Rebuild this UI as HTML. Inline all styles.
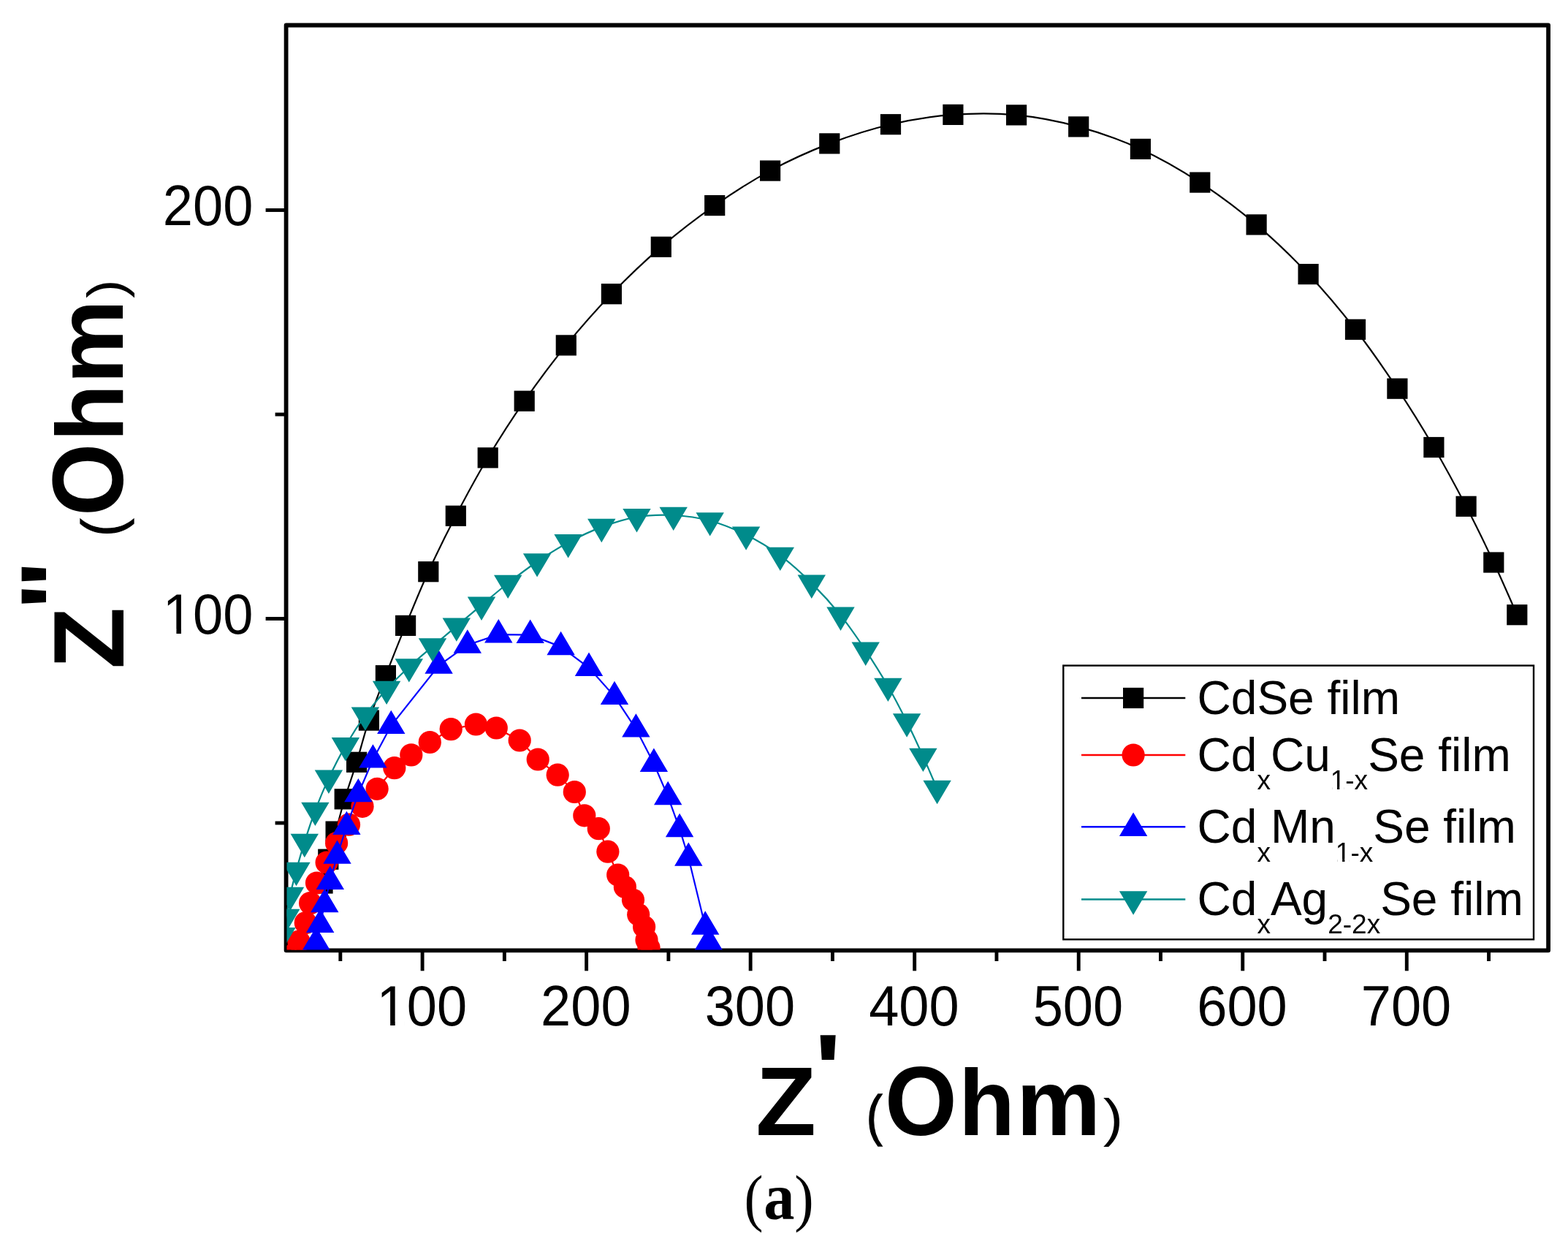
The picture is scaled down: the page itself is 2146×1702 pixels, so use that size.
<!DOCTYPE html>
<html lang="en"><head><meta charset="utf-8"><title>Nyquist plot - Z&#39;&#39; vs Z&#39; (Ohm)</title>
<style>
html,body{margin:0;padding:0;background:#fff;}
body{width:2146px;height:1702px;overflow:hidden;}
svg{display:block;}
text{font-family:"Liberation Sans",Arial,Helvetica,sans-serif;fill:#000;}
.tk{font-size:74px;}
.lg{font-size:64px;}
.sb{font-size:37px;}
.cap{font-family:"Liberation Serif","Times New Roman",serif;}
</style></head><body>
<svg width="2146" height="1702" viewBox="0 0 2146 1702">
<rect x="0" y="0" width="2146" height="1702" fill="#fff"/>
<defs><clipPath id="pc"><rect x="392.5" y="35.5" width="1725.5" height="1264"/></clipPath></defs>
<rect x="391.6" y="34.5" width="1727.5" height="1265.8" fill="none" stroke="#000" stroke-width="5.8" stroke-linejoin="round"/>
<g stroke="#000" stroke-width="4.9" stroke-linecap="butt">
<line x1="465.83" y1="1300.3" x2="465.83" y2="1315"/>
<line x1="578.1" y1="1300.3" x2="578.1" y2="1328.3"/>
<line x1="690.36" y1="1300.3" x2="690.36" y2="1315"/>
<line x1="802.63" y1="1300.3" x2="802.63" y2="1328.3"/>
<line x1="914.89" y1="1300.3" x2="914.89" y2="1315"/>
<line x1="1027.16" y1="1300.3" x2="1027.16" y2="1328.3"/>
<line x1="1139.42" y1="1300.3" x2="1139.42" y2="1315"/>
<line x1="1251.69" y1="1300.3" x2="1251.69" y2="1328.3"/>
<line x1="1363.95" y1="1300.3" x2="1363.95" y2="1315"/>
<line x1="1476.22" y1="1300.3" x2="1476.22" y2="1328.3"/>
<line x1="1588.48" y1="1300.3" x2="1588.48" y2="1315"/>
<line x1="1700.75" y1="1300.3" x2="1700.75" y2="1328.3"/>
<line x1="1813.01" y1="1300.3" x2="1813.01" y2="1315"/>
<line x1="1925.28" y1="1300.3" x2="1925.28" y2="1328.3"/>
<line x1="2037.54" y1="1300.3" x2="2037.54" y2="1315"/>
<line x1="376.6" y1="1126" x2="391.6" y2="1126"/>
<line x1="363.6" y1="846.5" x2="391.6" y2="846.5"/>
<line x1="376.6" y1="567" x2="391.6" y2="567"/>
<line x1="363.6" y1="287.5" x2="391.6" y2="287.5"/>
</g>
<g class="tk" text-anchor="middle">
<text transform="translate(577.3 1403) scale(1 1.04)">100</text>
<text transform="translate(801.83 1403) scale(1 1.04)">200</text>
<text transform="translate(1026.36 1403) scale(1 1.04)">300</text>
<text transform="translate(1250.89 1403) scale(1 1.04)">400</text>
<text transform="translate(1475.42 1403) scale(1 1.04)">500</text>
<text transform="translate(1699.95 1403) scale(1 1.04)">600</text>
<text transform="translate(1924.48 1403) scale(1 1.04)">700</text>
</g>
<rect x="520.62" y="1396.65" width="13.55" height="7.35" fill="#fff"/><rect x="540.71" y="1396.65" width="13.01" height="7.35" fill="#fff"/>
<g class="tk" text-anchor="end">
<text transform="translate(346.3 867.1) scale(1 1.04)">100</text>
<text transform="translate(346.3 308.1) scale(1 1.04)">200</text>
</g>
<rect x="227.88" y="860.75" width="13.55" height="7.35" fill="#fff"/><rect x="247.97" y="860.75" width="13.01" height="7.35" fill="#fff"/>
<g clip-path="url(#pc)">
<path fill="none" stroke="#000000" stroke-width="2.2" d="M2076.3 841.2C2070.97 829.25 2055.92 794.23 2044.3 769.5C2032.68 744.77 2020.25 719.05 2006.6 692.8C1992.95 666.55 1978.1 638.85 1962.4 612C1946.7 585.15 1930.3 558.57 1912.4 531.7C1894.5 504.83 1875.3 476.9 1855 450.8C1834.7 424.7 1813.17 399 1790.6 375.1C1768.03 351.2 1744.32 328.32 1719.6 307.4C1694.88 286.48 1668.75 266.85 1642.3 249.6C1615.85 232.35 1588.58 216.6 1560.9 203.9C1533.22 191.2 1504.5 181.15 1476.2 173.4C1447.9 165.65 1419.73 160.15 1391.1 157.4C1362.47 154.65 1333.08 154.77 1304.4 156.9C1275.72 159.03 1247.18 163.62 1219 170.2C1190.82 176.78 1162.78 185.83 1135.3 196.4C1107.82 206.97 1080.28 219.48 1054.1 233.6C1027.92 247.72 1003.08 263.73 978.2 281.1C953.32 298.47 928.35 317.62 904.8 337.8C881.25 357.98 858.57 379.77 836.9 402.2C815.23 424.63 794.67 447.98 774.8 472.4C754.93 496.82 735.55 523.05 717.7 548.7C699.85 574.35 683.35 600.12 667.7 626.3C652.05 652.48 637.37 679.82 623.8 705.8C610.23 731.78 597.75 757.18 586.3 782.2C574.85 807.22 564.83 832.23 555.1 855.9C545.37 879.57 536.27 902.58 527.9 924.2C519.53 945.82 511.53 965.83 504.9 985.6C498.27 1005.37 493.63 1024.85 488.1 1042.8C482.57 1060.75 476.45 1077.5 471.7 1093.3C466.95 1109.1 463.33 1123.87 459.6 1137.6C455.87 1151.33 452.32 1163.88 449.3 1175.7C446.28 1187.52 442.8 1203.03 441.5 1208.5"/>
<g fill="#000000">
<rect x="2062.2" y="827.1" width="28.2" height="28.2"/>
<rect x="2030.2" y="755.4" width="28.2" height="28.2"/>
<rect x="1992.5" y="678.7" width="28.2" height="28.2"/>
<rect x="1948.3" y="597.9" width="28.2" height="28.2"/>
<rect x="1898.3" y="517.6" width="28.2" height="28.2"/>
<rect x="1840.9" y="436.7" width="28.2" height="28.2"/>
<rect x="1776.5" y="361" width="28.2" height="28.2"/>
<rect x="1705.5" y="293.3" width="28.2" height="28.2"/>
<rect x="1628.2" y="235.5" width="28.2" height="28.2"/>
<rect x="1546.8" y="189.8" width="28.2" height="28.2"/>
<rect x="1462.1" y="159.3" width="28.2" height="28.2"/>
<rect x="1377" y="143.3" width="28.2" height="28.2"/>
<rect x="1290.3" y="142.8" width="28.2" height="28.2"/>
<rect x="1204.9" y="156.1" width="28.2" height="28.2"/>
<rect x="1121.2" y="182.3" width="28.2" height="28.2"/>
<rect x="1040" y="219.5" width="28.2" height="28.2"/>
<rect x="964.1" y="267" width="28.2" height="28.2"/>
<rect x="890.7" y="323.7" width="28.2" height="28.2"/>
<rect x="822.8" y="388.1" width="28.2" height="28.2"/>
<rect x="760.7" y="458.3" width="28.2" height="28.2"/>
<rect x="703.6" y="534.6" width="28.2" height="28.2"/>
<rect x="653.6" y="612.2" width="28.2" height="28.2"/>
<rect x="609.7" y="691.7" width="28.2" height="28.2"/>
<rect x="572.2" y="768.1" width="28.2" height="28.2"/>
<rect x="541" y="841.8" width="28.2" height="28.2"/>
<rect x="513.8" y="910.1" width="28.2" height="28.2"/>
<rect x="490.8" y="971.5" width="28.2" height="28.2"/>
<rect x="474" y="1028.7" width="28.2" height="28.2"/>
<rect x="457.6" y="1079.2" width="28.2" height="28.2"/>
<rect x="445.5" y="1123.5" width="28.2" height="28.2"/>
<rect x="435.2" y="1161.6" width="28.2" height="28.2"/>
<rect x="427.4" y="1194.4" width="28.2" height="28.2"/>
</g>
<polyline fill="none" stroke="#ff0000" stroke-width="2.2" points="402,1306 409,1288 418.3,1262.5 424.6,1235.6 433.5,1208 447.1,1180 460.6,1153.5 477.5,1128.2 496,1103.3 516.1,1079.3 539.8,1050.6 562.8,1032.9 588.3,1015.5 617.2,997.6 651.4,991 679.3,996 711.2,1013 736.2,1039 763.2,1060.2 786.3,1083.5 799.8,1115.8 819.3,1133.7 831.9,1165.2 845.7,1197 855.4,1213.5 866.5,1231.3 873.7,1251.3 881.6,1268 885,1286 888,1296.8"/>
<g fill="#ff0000">
<circle cx="402" cy="1306" r="15.6"/>
<circle cx="409" cy="1288" r="15.6"/>
<circle cx="418.3" cy="1262.5" r="15.6"/>
<circle cx="424.6" cy="1235.6" r="15.6"/>
<circle cx="433.5" cy="1208" r="15.6"/>
<circle cx="447.1" cy="1180" r="15.6"/>
<circle cx="460.6" cy="1153.5" r="15.6"/>
<circle cx="477.5" cy="1128.2" r="15.6"/>
<circle cx="496" cy="1103.3" r="15.6"/>
<circle cx="516.1" cy="1079.3" r="15.6"/>
<circle cx="539.8" cy="1050.6" r="15.6"/>
<circle cx="562.8" cy="1032.9" r="15.6"/>
<circle cx="588.3" cy="1015.5" r="15.6"/>
<circle cx="617.2" cy="997.6" r="15.6"/>
<circle cx="651.4" cy="991" r="15.6"/>
<circle cx="679.3" cy="996" r="15.6"/>
<circle cx="711.2" cy="1013" r="15.6"/>
<circle cx="736.2" cy="1039" r="15.6"/>
<circle cx="763.2" cy="1060.2" r="15.6"/>
<circle cx="786.3" cy="1083.5" r="15.6"/>
<circle cx="799.8" cy="1115.8" r="15.6"/>
<circle cx="819.3" cy="1133.7" r="15.6"/>
<circle cx="831.9" cy="1165.2" r="15.6"/>
<circle cx="845.7" cy="1197" r="15.6"/>
<circle cx="855.4" cy="1213.5" r="15.6"/>
<circle cx="866.5" cy="1231.3" r="15.6"/>
<circle cx="873.7" cy="1251.3" r="15.6"/>
<circle cx="881.6" cy="1268" r="15.6"/>
<circle cx="885" cy="1286" r="15.6"/>
<circle cx="888" cy="1296.8" r="15.6"/>
</g>
<polyline fill="none" stroke="#0000ff" stroke-width="2.2" points="432.8,1289 438.2,1264.7 444.3,1236.9 451.8,1205.7 461.5,1170.5 474.4,1130.8 490.4,1086 510.4,1039.3 535.3,992.8 600.6,910.5 639.8,882.4 682.3,868.1 725.7,868.7 767.6,884.9 806,913.6 841,952.8 870.4,997.3 894.9,1044.7 914.2,1089.9 930.1,1133.9 942.3,1173.5 965.2,1267.4 969.8,1288.7"/>
<path fill="#0000ff" d="M413.6 1300.3L452 1300.3L432.8 1267.9ZM419 1276L457.4 1276L438.2 1243.6ZM425.1 1248.2L463.5 1248.2L444.3 1215.8ZM432.6 1217L471 1217L451.8 1184.6ZM442.3 1181.8L480.7 1181.8L461.5 1149.4ZM455.2 1142.1L493.6 1142.1L474.4 1109.7ZM471.2 1097.3L509.6 1097.3L490.4 1064.9ZM491.2 1050.6L529.6 1050.6L510.4 1018.2ZM516.1 1004.1L554.5 1004.1L535.3 971.7ZM581.4 921.8L619.8 921.8L600.6 889.4ZM620.6 893.7L659 893.7L639.8 861.3ZM663.1 879.4L701.5 879.4L682.3 847ZM706.5 880L744.9 880L725.7 847.6ZM748.4 896.2L786.8 896.2L767.6 863.8ZM786.8 924.9L825.2 924.9L806 892.5ZM821.8 964.1L860.2 964.1L841 931.7ZM851.2 1008.6L889.6 1008.6L870.4 976.2ZM875.7 1056L914.1 1056L894.9 1023.6ZM895 1101.2L933.4 1101.2L914.2 1068.8ZM910.9 1145.2L949.3 1145.2L930.1 1112.8ZM923.1 1184.8L961.5 1184.8L942.3 1152.4ZM946 1278.7L984.4 1278.7L965.2 1246.3ZM950.6 1300L989 1300L969.8 1267.6Z"/>
<path fill="none" stroke="#008b8b" stroke-width="2.2" d="M385.5 1280.3C386.47 1276.08 389.38 1264.2 391.3 1255C393.22 1245.8 394.63 1235.75 397 1225.1C399.37 1214.45 402.2 1203.27 405.5 1191.1C408.8 1178.93 412.48 1165.78 416.8 1152.1C421.12 1138.42 425.88 1123.53 431.4 1109C436.92 1094.47 442.98 1079.67 449.9 1064.9C456.82 1050.13 464.57 1034.77 472.9 1020.4C481.23 1006.03 490.53 991.6 499.9 978.7C509.27 965.8 519.12 954.03 529.1 943C539.08 931.97 549.32 922.25 559.8 912.5C570.28 902.75 581.17 893.8 592 884.5C602.83 875.2 613.63 866.13 624.8 856.7C635.97 847.27 647.27 837.68 659 827.9C670.73 818.12 682.52 807.9 695.2 798C707.88 788.1 721.37 777.78 735.1 768.5C748.83 759.22 762.9 750.2 777.6 742.3C792.3 734.4 807.65 726.93 823.3 721.1C838.95 715.27 855.1 709.98 871.5 707.3C887.9 704.62 905 704.13 921.7 705C938.4 705.87 955.13 708.05 971.7 712.5C988.27 716.95 1005.08 723.78 1021.1 731.7C1037.12 739.62 1052.85 748.97 1067.8 760C1082.75 771.03 1097.02 784.25 1110.8 797.9C1124.58 811.55 1138.18 826.58 1150.5 841.9C1162.82 857.22 1173.88 873.62 1184.7 889.8C1195.52 905.98 1206 922.7 1215.4 939C1224.8 955.3 1233.1 971.6 1241.1 987.6C1249.1 1003.6 1256.48 1019.75 1263.4 1035C1270.32 1050.25 1279.4 1071.75 1282.6 1079.1"/>
<path fill="#008b8b" d="M366.3 1269L404.7 1269L385.5 1301.4ZM372.1 1243.7L410.5 1243.7L391.3 1276.1ZM377.8 1213.8L416.2 1213.8L397 1246.2ZM386.3 1179.8L424.7 1179.8L405.5 1212.2ZM397.6 1140.8L436 1140.8L416.8 1173.2ZM412.2 1097.7L450.6 1097.7L431.4 1130.1ZM430.7 1053.6L469.1 1053.6L449.9 1086ZM453.7 1009.1L492.1 1009.1L472.9 1041.5ZM480.7 967.4L519.1 967.4L499.9 999.8ZM509.9 931.7L548.3 931.7L529.1 964.1ZM540.6 901.2L579 901.2L559.8 933.6ZM572.8 873.2L611.2 873.2L592 905.6ZM605.6 845.4L644 845.4L624.8 877.8ZM639.8 816.6L678.2 816.6L659 849ZM676 786.7L714.4 786.7L695.2 819.1ZM715.9 757.2L754.3 757.2L735.1 789.6ZM758.4 731L796.8 731L777.6 763.4ZM804.1 709.8L842.5 709.8L823.3 742.2ZM852.3 696L890.7 696L871.5 728.4ZM902.5 693.7L940.9 693.7L921.7 726.1ZM952.5 701.2L990.9 701.2L971.7 733.6ZM1001.9 720.4L1040.3 720.4L1021.1 752.8ZM1048.6 748.7L1087 748.7L1067.8 781.1ZM1091.6 786.6L1130 786.6L1110.8 819ZM1131.3 830.6L1169.7 830.6L1150.5 863ZM1165.5 878.5L1203.9 878.5L1184.7 910.9ZM1196.2 927.7L1234.6 927.7L1215.4 960.1ZM1221.9 976.3L1260.3 976.3L1241.1 1008.7ZM1244.2 1023.7L1282.6 1023.7L1263.4 1056.1ZM1263.4 1067.8L1301.8 1067.8L1282.6 1100.2Z"/>
</g>
<rect x="1455.3" y="910.6" width="643.7" height="374.7" fill="#fff" stroke="#000" stroke-width="2.4"/>
<line x1="1480" y1="955" x2="1622.3" y2="955" stroke="#000000" stroke-width="2.4"/>
<line x1="1480" y1="1033" x2="1622.3" y2="1033" stroke="#ff0000" stroke-width="2.4"/>
<line x1="1480" y1="1131.2" x2="1622.3" y2="1131.2" stroke="#0000ff" stroke-width="2.4"/>
<line x1="1480" y1="1230.5" x2="1622.3" y2="1230.5" stroke="#008b8b" stroke-width="2.4"/>
<rect x="1537" y="940.9" width="28.2" height="28.2" fill="#000000"/>
<circle cx="1551.1" cy="1033" r="15.6" fill="#ff0000"/>
<path fill="#0000ff" d="M1531.9 1144L1570.3 1144L1551.1 1111.6Z"/>
<path fill="#008b8b" d="M1531.9 1219.3L1570.3 1219.3L1551.1 1251.7Z"/>
<text class="lg" x="1638.6" y="977">CdSe film</text>
<text class="lg" x="1638.6" y="1054.5">Cd<tspan class="sb" dy="25.5">x</tspan><tspan dy="-25.5">Cu</tspan><tspan class="sb" dy="25.5">1-x</tspan><tspan dy="-25.5">Se film</tspan></text>
<rect x="1823.26" y="1076.64" width="6.77" height="4.36" fill="#fff"/><rect x="1833.31" y="1076.64" width="6.5" height="4.36" fill="#fff"/>
<text class="lg" x="1638.6" y="1153">Cd<tspan class="sb" dy="25.5">x</tspan><tspan dy="-25.5">Mn</tspan><tspan class="sb" dy="25.5">1-x</tspan><tspan dy="-25.5">Se film</tspan></text>
<rect x="1830.36" y="1175.14" width="6.77" height="4.36" fill="#fff"/><rect x="1840.4" y="1175.14" width="6.5" height="4.36" fill="#fff"/>
<text class="lg" x="1638.6" y="1251.8">Cd<tspan class="sb" dy="25.5">x</tspan><tspan dy="-25.5">Ag</tspan><tspan class="sb" dy="25.5">2-2x</tspan><tspan dy="-25.5">Se film</tspan></text>
<g id="xtitle">
<text transform="translate(1034.16 1552.9) scale(1.0097 1)" font-size="134.16px" font-weight="bold">Z</text>
<text transform="translate(1114.29 1508.65) scale(1.1742 1)" font-size="134.67px" font-weight="bold">&#39;</text>
<text transform="translate(1185.63 1552.41) scale(0.8661 1)" font-size="75.78px" font-weight="normal" stroke="#000" stroke-width="1.3">(</text>
<text transform="translate(1211.1 1552.79) scale(0.9481 1)" font-size="133.9px" font-weight="bold">O</text>
<text transform="translate(1312.1 1552.9) scale(0.9814 1)" font-size="128.48px" font-weight="bold">h</text>
<text transform="translate(1390.95 1552.9) scale(1.0102 1)" font-size="128.48px" font-weight="bold">m</text>
<text transform="translate(1509.71 1553.51) scale(1.1283 1)" font-size="72.89px" font-weight="normal">)</text>
</g>
<g id="ytitle">
<text transform="rotate(-90) translate(-915.54 168.8) scale(1.0049 1)" font-size="138.23px" font-weight="bold">Z</text>
<text transform="rotate(-90) translate(-835.56 122.08) scale(1.0923 1)" font-size="134.27px" font-weight="bold">&#34;</text>
<text transform="rotate(-90) translate(-733.91 167.18) scale(0.9291 1)" font-size="78.36px" font-weight="normal" stroke="#000" stroke-width="1.3">(</text>
<text transform="rotate(-90) translate(-706.04 168.46) scale(0.9338 1)" font-size="136.86px" font-weight="bold">O</text>
<text transform="rotate(-90) translate(-604.18 168) scale(0.9882 1)" font-size="130.14px" font-weight="bold">h</text>
<text transform="rotate(-90) translate(-525.34 168) scale(1.0034 1)" font-size="129.22px" font-weight="bold">m</text>
<text transform="rotate(-90) translate(-408.05 168.51) scale(1.0941 1)" font-size="69.99px" font-weight="normal">)</text>
</g>
<g id="caption">
<text class="cap" transform="translate(1018.57 1667.71) scale(0.9060 1)" font-size="86.36px" font-weight="normal">(</text>
<text class="cap" transform="translate(1045.28 1668.12) scale(0.9378 1)" font-size="89.98px" font-weight="bold">a</text>
<text class="cap" transform="translate(1087.24 1667.71) scale(0.9195 1)" font-size="86.36px" font-weight="normal">)</text>
</g>
</svg>
</body></html>
